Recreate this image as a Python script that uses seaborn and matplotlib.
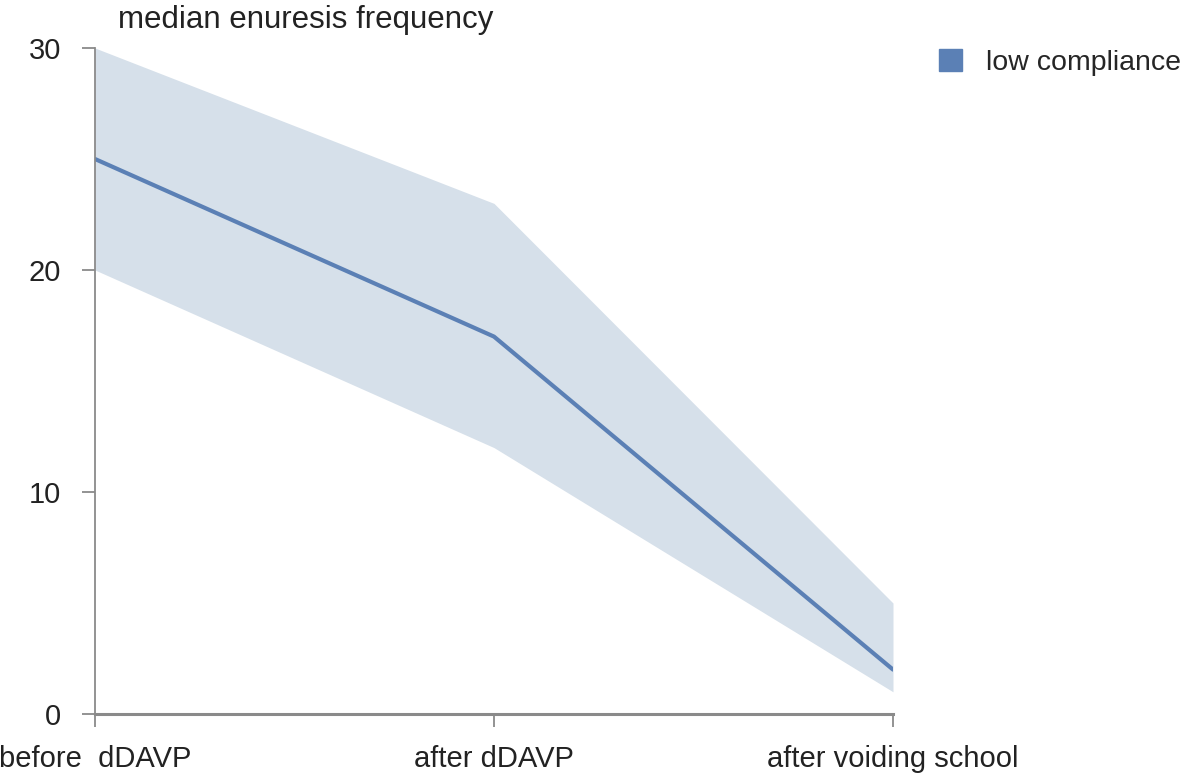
import pandas as pd
import numpy as np
import matplotlib
matplotlib.use('Agg')
import matplotlib.pyplot as plt
import seaborn as sns
from matplotlib.patches import Patch

# values
stages = ['before  dDAVP', 'after dDAVP', 'after voiding school']
median = [25, 17, 2]
upper = [30, 23, 5]
lower = [20, 12, 1]

line_col = '#5b80b5'
band_col = '#d6e0ea'
spine_col = '#8a8a8a'

sns.set_style('ticks')
plt.rcParams['font.family'] = ['Liberation Sans', 'DejaVu Sans']

df = pd.DataFrame({'x': np.arange(len(stages)), 'median': median,
                   'upper': upper, 'lower': lower})

fig = plt.figure(figsize=(11.81, 7.78), dpi=100)
ax = fig.add_axes([95 / 1181, 1 - 714 / 778, (893 - 95) / 1181, (714 - 48) / 778])

ax.fill_between(df['x'], df['lower'], df['upper'], color=band_col, linewidth=0, zorder=1)
sns.lineplot(data=df, x='x', y='median', color=line_col, linewidth=3, ax=ax, zorder=2)

ax.set_xlim(0, 2)
ax.set_ylim(0, 30)
ax.set_xticks(df['x'])
ax.set_xticklabels(stages)
ax.set_yticks([0, 10, 20, 30])
ax.set_xlabel('')
ax.set_ylabel('')
ax.tick_params(axis='both', labelsize=21, colors=spine_col, labelcolor='#222222',
               length=9.5, width=1.3, direction='out')
ax.tick_params(axis='x', pad=13)
ax.tick_params(axis='y', pad=15)
for s in ['top', 'right']:
    ax.spines[s].set_visible(False)
ax.spines['left'].set_color(spine_col)
ax.spines['bottom'].set_color(spine_col)
ax.spines['left'].set_linewidth(1.3)
ax.spines['bottom'].set_linewidth(2.2)

fig.text(118 / 1181, 1 - 28 / 778, 'median enuresis frequency', fontsize=22.5,
         color='#222222', ha='left', va='baseline')

handle = Patch(facecolor=line_col, edgecolor=line_col, label='low compliance')
fig.legend(handles=[handle], loc='upper left', bbox_to_anchor=(928 / 1181, 1 - 38 / 778),
           frameon=False, fontsize=20.5, handlelength=0.8, handleheight=0.8,
           handletextpad=0.85, borderaxespad=0)

fig.savefig('out.png', dpi=100)
